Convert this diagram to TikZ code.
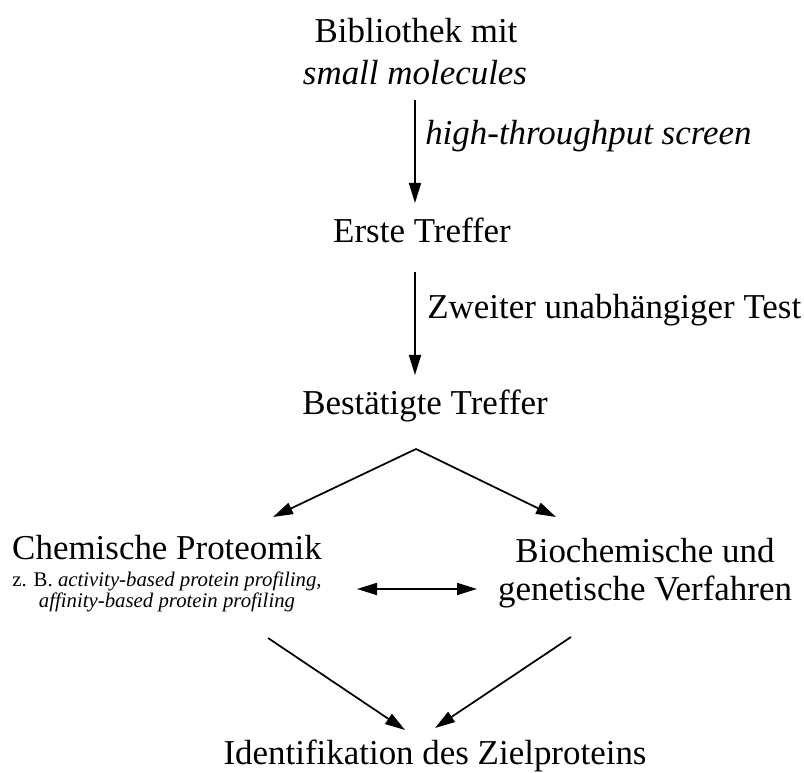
\documentclass[tikz,border=0pt]{standalone}
\usepackage{fontspec}
\setmainfont{Liberation Serif}
\usetikzlibrary{arrows.meta}
\begin{document}
\begin{tikzpicture}[x=0.75pt,y=-0.75pt,
  big/.style={font=\fontsize{26.2}{30}\selectfont, inner sep=0pt, anchor=base},
  lab/.style={font=\fontsize{26.2}{30}\selectfont, inner sep=0pt, anchor=base west},
  small/.style={font=\fontsize{15.6}{18}\selectfont, inner sep=0pt, anchor=base},
  conn/.style={line width=1.3pt, -{Triangle[length=15pt,width=9pt]}},
  dconn/.style={line width=1.3pt, {Triangle[length=15pt,width=9pt]}-{Triangle[length=15pt,width=9pt]}}]
\useasboundingbox (0,0) rectangle (804,773);

% text nodes
\node[big] (t1) at (416,43) {Bibliothek mit};
\node[big] (t2) at (415,85) {\textit{small molecules}};
\node[lab] (l1) at (425,145) {\textit{high-throughput screen}};
\node[big] (t3) at (422,243) {Erste Treffer};
\node[lab] (l2) at (427,319) {Zweiter unabhängiger Test};
\node[big] (t4) at (425,415) {Bestätigte Treffer};
\node[big] (c1) at (167,560) {Chemische Proteomik};
\node[small] (c2) at (167,587) {z. B. \textit{activity-based protein profiling,}};
\node[small] (c3) at (167,608) {\textit{affinity-based protein profiling}};
\node[big] (b1) at (645,563) {Biochemische und};
\node[big] (b2) at (645,601) {genetische Verfahren};
\node[big] (z) at (435,764) {Identifikation des Zielproteins};

% connector end points
\coordinate (a1s) at (415,100);
\coordinate (a1e) at (415,203);
\coordinate (a2s) at (415,272);
\coordinate (a2e) at (415,375);
\coordinate (apex) at (416,449);
\coordinate (fl) at (273,517);
\coordinate (fr) at (556,517);
\coordinate (dl) at (357,589);
\coordinate (dr) at (477,589);
\coordinate (bls) at (268,638);
\coordinate (ble) at (405,730);
\coordinate (brs) at (571,637);
\coordinate (bre) at (435,728);

% connectors
\draw[conn] (a1s) -- (a1e);
\draw[conn] (a2s) -- (a2e);
\draw[conn] (apex) -- (fl);
\draw[conn] (apex) -- (fr);
\draw[dconn] (dl) -- (dr);
\draw[conn] (bls) -- (ble);
\draw[conn] (brs) -- (bre);
\end{tikzpicture}
\end{document}
